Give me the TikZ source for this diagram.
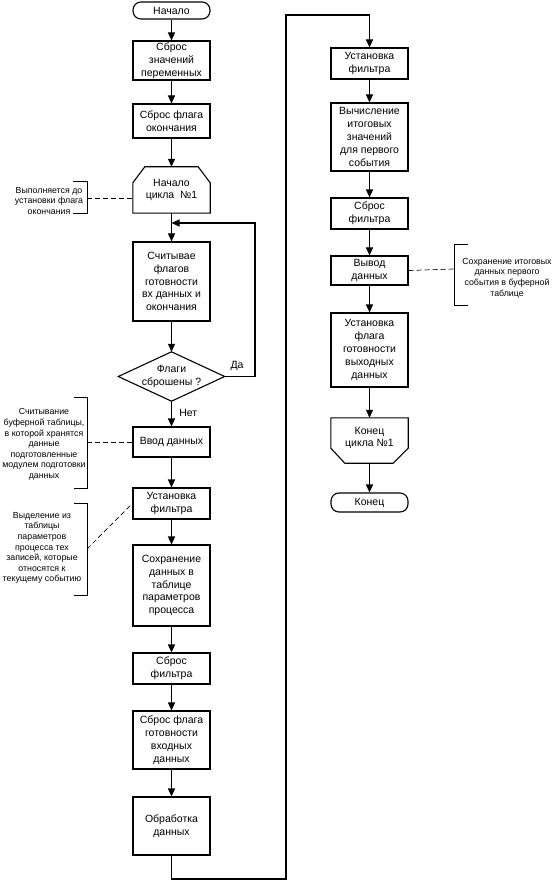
\documentclass[tikz,border=0pt]{standalone}
\usepackage{fontspec}
\setmainfont{Liberation Sans}
\usetikzlibrary{arrows.meta,calc}
\begin{document}
\begin{tikzpicture}[x=1pt,y=-1pt,
 box/.style={draw, line width=1.1pt, minimum width=77pt, align=center, inner sep=1pt, font=\fontsize{10.5}{12.8}\selectfont},
 plain/.style={align=center, inner sep=1pt, minimum width=77pt, font=\fontsize{10.5}{12.8}\selectfont},
 term/.style={box, rounded corners=8pt},
 note/.style={align=center, inner sep=0pt, font=\fontsize{8.8}{10.6}\selectfont},
 arr/.style={line width=1.1pt, -{Triangle[length=8pt,width=7pt]}},
 link/.style={line width=1.1pt, line join=miter},
 brk/.style={line width=0.7pt},
 dsh/.style={line width=0.7pt, dash pattern=on 5pt off 3pt}]
\useasboundingbox (0,0) rectangle (554,882);
% left column
\node[term, minimum height=17pt] (start) at (171.5,10.5) {Начало};
\node[box, minimum height=39pt] (b1) at (171.5,60.5) {Сброс\\значений\\переменных};
\node[box, minimum height=34pt] (b2) at (171.5,121) {Сброс флага\\окончания};
\node[plain, minimum height=46pt] (loop) at (171.5,190) {Начало\\цикла\ \ №1};
\draw[link] ($(loop.north west)+(0,16)$) -- ($(loop.north west)+(12,0)$) -- ($(loop.north east)+(-12,0)$) -- ($(loop.north east)+(0,16)$) -- (loop.south east) -- (loop.south west) -- cycle;
\node[box, minimum height=79pt] (b3) at (171.5,281.5) {Считывае\\флагов\\готовности\\вх данных и\\окончания};
\node[plain, minimum width=106pt, minimum height=49pt] (dia) at (171.5,376.5) {Флаги\\сброшены ?};
\draw[link] (dia.north) -- (dia.east) -- (dia.south) -- (dia.west) -- cycle;
\node[box, minimum height=30pt] (b4) at (171.5,442) {Ввод данных};
\node[box, minimum height=31pt] (b5) at (171.5,503.5) {Установка\\фильтра};
\node[box, minimum height=81pt] (b6) at (171.5,585.5) {Сохранение\\данных в\\таблице\\параметров\\процесса};
\node[box, minimum height=31pt] (b7) at (171.5,668.5) {Сброс\\фильтра};
\node[box, minimum height=58pt] (b8) at (171.5,740) {Сброс флага\\готовности\\входных\\данных};
\node[box, minimum height=58pt] (b9) at (171.5,826) {Обработка\\данных};
% right column
\node[box, minimum height=31pt] (r1) at (369.5,63.5) {Установка\\фильтра};
\node[box, minimum height=68pt] (r2) at (369.5,137) {Вычисление\\итоговых\\значений\\для первого\\события};
\node[box, minimum height=31pt] (r3) at (369.5,213.5) {Сброс\\фильтра};
\node[box, minimum height=29pt] (r4) at (369.5,270.5) {Вывод\\данных};
\node[box, minimum height=74pt] (r5) at (369.5,350) {Установка\\флага\\готовности\\выходных\\данных};
\node[plain, minimum height=45pt] (r6) at (369.5,440.5) {};
\node[plain, inner sep=0pt] (r6t) at (369.5,438) {Конец\\цикла №1};
\draw[link] (r6.north west) -- (r6.north east) -- ($(r6.south east)+(0,-15)$) -- ($(r6.south east)+(-15,0)$) -- ($(r6.south west)+(14,0)$) -- ($(r6.south west)+(0,-15)$) -- cycle;
\node[term, minimum height=19pt] (end) at (369.5,502.5) {Конец};
% connectors
\draw[arr] (start) -- (b1);
\draw[arr] (b1) -- (b2);
\draw[arr] (b2) -- (loop);
\draw[arr] (loop) -- (b3);
\draw[arr] (b3) -- (dia);
\draw[arr] (dia) -- (b4) node[pos=0.45, right=4pt, font=\fontsize{10.5}{12.8}\selectfont] (no) {Нет};
\draw[arr] (b4) -- (b5);
\draw[arr] (b5) -- (b6);
\draw[arr] (b6) -- (b7);
\draw[arr] (b7) -- (b8);
\draw[arr] (b8) -- (b9);
\coordinate (lj) at (171.5,223);
\coordinate (lr) at (255,376.5);
\draw[arr] (dia.east) -- (lr) |- (lj);
\node[font=\fontsize{10.5}{12.8}\selectfont, inner sep=0pt] (yes) at (237,366) {Да};
\coordinate (c1) at (286,879);
\coordinate (c2) at (286,15);
\draw[arr] (b9.south) |- (c1) -- (c2) -| (r1.north);
\draw[arr] (r1) -- (r2);
\draw[arr] (r2) -- (r3);
\draw[arr] (r3) -- (r4);
\draw[arr] (r4) -- (r5);
\draw[arr] (r5) -- (r6);
\draw[arr] (r6) -- (end);
% annotations
\node[note] (a1) at (49,201) {Выполняется до\\установки флага\\окончания};
\coordinate (k1a) at (87,181); \coordinate (k1b) at (87,213); \coordinate (k1m) at (87,198);
\draw[brk] ($(k1a)+(-14,0)$) -- (k1a) -- (k1b) -- ($(k1b)+(-14,0)$);
\draw[dsh] (k1m) -- (loop.west |- k1m);
\node[note] (a2) at (44,444.5) {Считывание\\буферной таблицы,\\в которой хранятся\\данные\\подготовленные\\модулем подготовки\\данных};
\coordinate (k2a) at (87,397); \coordinate (k2b) at (87,488); \coordinate (k2m) at (87,442);
\draw[brk] ($(k2a)+(-13,0)$) -- (k2a) -- (k2b) -- ($(k2b)+(-13,0)$);
\draw[dsh] (k2m) -- (b4.west);
\node[note] (a3) at (42,548) {Выделение из\\таблицы\\параметров\\процесса тех\\записей, которые\\относятся к\\текущему событию};
\coordinate (k3a) at (87,503); \coordinate (k3b) at (87,595); \coordinate (k3m) at (87,549);
\draw[brk] ($(k3a)+(-13,0)$) -- (k3a) -- (k3b) -- ($(k3b)+(-13,0)$);
\draw[dsh] (k3m) -- (b5.west);
\node[note] (a4) at (507,278) {Сохранение итоговых\\данных первого\\события в буферной\\таблице};
\coordinate (k4a) at (454,244); \coordinate (k4b) at (454,305); \coordinate (k4m) at (454,269);
\draw[brk] ($(k4a)+(14,0)$) -- (k4a) -- (k4b) -- ($(k4b)+(14,0)$);
\draw[dsh] (r4.east) -- (k4m);
\end{tikzpicture}
\end{document}
